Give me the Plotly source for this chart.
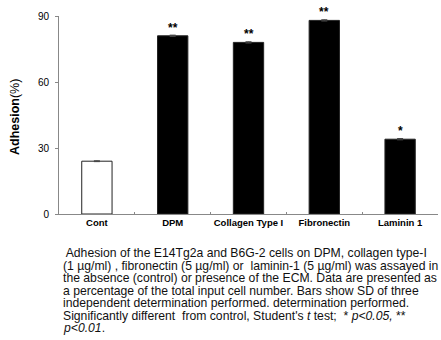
import plotly.graph_objects as go

categories = ["Cont", "DPM", "Collagen Type I", "Fibronectin", "Laminin 1"]
values = [24, 81, 78, 88, 34]
errors = [0.2, 0.3, 0.3, 0.3, 0.3]
signif = ["", "**", "**", "**", "*"]
fills = ["white", "black", "black", "black", "black"]
y_ticks = [0, 30, 60, 90]

caption_lines = [
    " Adhesion of the E14Tg2a and B6G-2 cells on DPM, collagen type-I",
    "(1 µg/ml) , fibronectin (5 µg/ml) or  laminin-1 (5 µg/ml) was assayed in",
    "the absence (control) or presence of the ECM. Data are presented as",
    "a percentage of the total input cell number. Bars show SD of three",
    "independent determination performed. determination performed.",
    "Significantly different  from control, Student's <i>t</i> test;  * <i>p<0.05,</i> **",
    "<i>p<0.01</i>.",
]

PL, PR, PT, PB = 59, 438, 16, 214
PW, PH = PR - PL, PB - PT

fig = go.Figure()
fig.add_trace(go.Bar(
    x=categories, y=values, width=0.4,
    marker=dict(color=fills, line=dict(color="#222", width=1)),
    error_y=dict(type="data", array=errors, color="#444", thickness=1, width=3),
    showlegend=False,
))

for c, v, s in zip(categories, values, signif):
    if s:
        fig.add_annotation(x=c, y=v, text="<b>" + s + "</b>", showarrow=False,
                           yshift=8, font=dict(family="Arial", size=12, color="black"))

fig.add_annotation(
    xref="paper", yref="paper", x=(15 - PL) / PW, y=(PB - 117) / PH,
    text="<b>Adhesion</b>(%)", textangle=-90, showarrow=False,
    font=dict(family="Arial", size=12.5, color="black"),
    xanchor="center", yanchor="middle",
)

y0 = 253.3
for i, line in enumerate(caption_lines):
    ypix = y0 + i * 12.5
    fig.add_annotation(
        xref="paper", yref="paper", x=(61 - PL) / PW, y=(PB - ypix) / PH,
        text=line, showarrow=False, xanchor="left", yanchor="middle",
        align="left", font=dict(family="Arial", size=12.2, color="#111"),
    )

fig.update_layout(
    width=441, height=340,
    margin=dict(l=PL, r=441 - PR, t=PT, b=340 - PB),
    paper_bgcolor="white", plot_bgcolor="white",
)
fig.update_xaxes(
    showline=True, linecolor="#888", linewidth=1,
    ticks="inside", ticklen=2, tickcolor="#888", tickson="boundaries",
    tickfont=dict(family="Arial", size=9.5, color="black"), tickangle=0,
    tickprefix="<b>", ticksuffix="</b>",
    range=[-0.5, 4.5], showgrid=False,
)
fig.update_yaxes(
    range=[0, 90], tickvals=y_ticks, showline=True, linecolor="#888", linewidth=1,
    ticks="outside", ticklen=3, tickcolor="#888", ticklabelstandoff=4,
    tickfont=dict(family="Arial", size=10, color="black"),
    tickprefix="<b>", ticksuffix="</b>", showgrid=False, zeroline=False,
)

fig.write_html("out.html", config={"displayModeBar": False},
               post_script="document.body.style.margin='0';")
